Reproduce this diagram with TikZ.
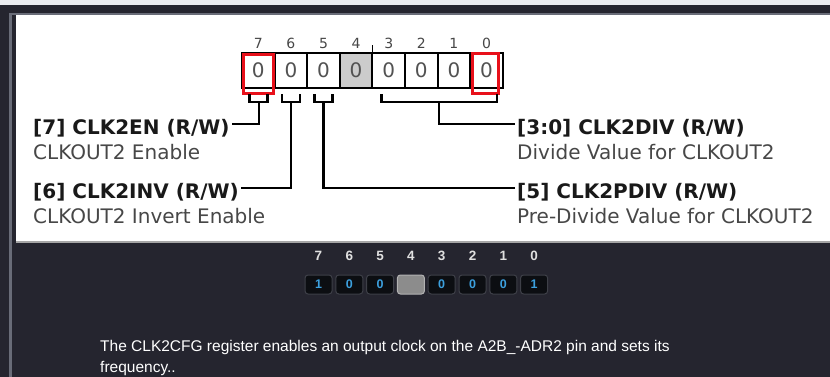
\documentclass[tikz,border=0pt]{standalone}
\usepackage{fontspec}
\setmainfont{DejaVu Sans}
\newfontfamily\uifont{Liberation Sans}
\usetikzlibrary{positioning,calc}
\definecolor{pagedark}{RGB}{37,37,47}
\definecolor{pagestrip}{RGB}{234,236,240}
\definecolor{frameline}{RGB}{105,108,120}
\definecolor{markred}{RGB}{232,16,26}
\definecolor{celldark}{RGB}{12,14,18}
\definecolor{cellrim}{RGB}{62,64,72}
\definecolor{bitblue}{RGB}{60,160,222}
\tikzset{
  bitcell/.style   = {draw=black, line width=2pt, fill=white, outer sep=0pt,
                      minimum width=32.6pt, minimum height=35pt, inner sep=0pt,
                      text=black!68, font=\fontsize{20}{20}\selectfont},
  rsvcell/.style   = {bitcell, fill=black!20},
  bitnum/.style    = {text=black!72, inner sep=0pt, font=\fontsize{14}{14}\selectfont},
  redmark/.style   = {draw=markred, line width=3pt},
  brk/.style       = {line width=2.4pt, line cap=rect},
  fieldtitle/.style= {inner sep=3pt, text=black!90,
                      font=\fontsize{20}{20}\selectfont\bfseries},
  fielddesc/.style = {inner sep=3pt, text=black!72,
                      font=\fontsize{20}{20}\selectfont},
  regbit/.style    = {draw=cellrim, fill=celldark, line width=1pt, rounded corners=3pt,
                      minimum width=27pt, minimum height=19pt, inner sep=0pt,
                      text=bitblue, font=\uifont\fontsize{12.5}{12.5}\selectfont\bfseries},
  regrsv/.style    = {regbit, fill=black!45, draw=black!30},
  regnum/.style    = {text=black!12, inner sep=0pt,
                      font=\uifont\fontsize{13.5}{13.5}\selectfont\bfseries},
  note/.style      = {text=white, align=left, inner sep=0pt,
                      font=\uifont\fontsize{15.5}{21}\selectfont}
}
\begin{document}
\begin{tikzpicture}[x=1pt, y=-1pt]
  \useasboundingbox (0,0) rectangle (830,377);

  % page frame
  \fill[pagestrip] (0,0) rectangle (830,5);
  \fill[pagedark]  (0,5) rectangle (830,377);
  \fill[frameline] (9,13) rectangle (12,377);
  \fill[frameline] (12,13) rectangle (830,15);
  \fill[white] (16,15) rectangle (830,241);
  \fill[black!35] (16,241) rectangle (830,243);

  % register picture
  \node[bitcell]                 (c7) at (258.3,70.5) {0};
  \node[bitcell, right=0pt of c7] (c6) {0};
  \node[bitcell, right=0pt of c6] (c5) {0};
  \node[rsvcell, right=0pt of c5] (c4) {0};
  \node[bitcell, right=0pt of c4] (c3) {0};
  \node[bitcell, right=0pt of c3] (c2) {0};
  \node[bitcell, right=0pt of c2] (c1) {0};
  \node[bitcell, right=0pt of c1] (c0) {0};

  \node[bitnum, above=4pt of c7] (n7) {7};
  \node[bitnum, above=4pt of c6] (n6) {6};
  \node[bitnum, above=4pt of c5] (n5) {5};
  \node[bitnum, above=4pt of c4] (n4) {4};
  \node[bitnum, above=4pt of c3] (n3) {3};
  \node[bitnum, above=4pt of c2] (n2) {2};
  \node[bitnum, above=4pt of c1] (n1) {1};
  \node[bitnum, above=4pt of c0] (n0) {0};

  \draw[line width=1.5pt] (c4.north east) -- ++(0,-8);

  \draw[redmark] ([xshift=1.5pt,yshift=-2pt]c7.north west) rectangle ([xshift=-1.5pt,yshift=-6pt]c7.south east);
  \draw[redmark] ([xshift=2pt,yshift=-1pt]c0.north west) rectangle ([xshift=-4pt,yshift=-6pt]c0.south east);

  % field labels
  \node[fieldtitle, anchor=west] (t7) at (30,128) {[7] CLK2EN (R/W)};
  \node[fielddesc, below=24pt of t7.west, anchor=west] (e7) {CLKOUT2 Enable};
  \node[fieldtitle, anchor=west] (t6) at (30,192) {[6] CLK2INV (R/W)};
  \node[fielddesc, below=24pt of t6.west, anchor=west] (e6) {CLKOUT2 Invert Enable};
  \node[fieldtitle, anchor=west] (t30) at (514,128) {[3:0] CLK2DIV (R/W)};
  \node[fielddesc, below=24pt of t30.west, anchor=west] (e30) {Divide Value for CLKOUT2};
  \node[fieldtitle, anchor=west] (t5) at (514,192) {[5] CLK2PDIV (R/W)};
  \node[fielddesc, below=24pt of t5.west, anchor=west] (e5) {Pre-Divide Value for CLKOUT2};

  % brackets and leaders
  \draw[brk] ($(c7.south)+(-9,7)$) -- ++(0,7) -- ++(18,0) -- ++(0,-7);
  \draw[brk] ($(c7.south)+(0.5,14)$) |- ([yshift=4pt]t7.east);
  \draw[brk] ($(c6.south)+(-9,7)$) -- ++(0,7) -- ++(18,0) -- ++(0,-7);
  \draw[brk] ($(c6.south)+(0,14)$) |- ([yshift=4pt]t6.east);
  \draw[brk] ($(c5.south)+(-9,7)$) -- ++(0,7) -- ++(18,0) -- ++(0,-7);
  \draw[brk] ($(c5.south)+(0,14)$) |- ([yshift=4pt]t5.west);
  \coordinate (b30) at ($(c3.south west)!0.5!(c0.south east)$);
  \draw[brk] ($(c3.south west)+(9,7)$) -- ++(0,7) -| ($(c0.south east)+(-6,7)$);
  \draw[brk] ($(b30)+(1.5,14)$) |- ([yshift=4pt]t30.west);

  % live register readout
  \node[regbit]                    (r7) at (318.5,284.5) {1};
  \node[regbit, right=2.8pt of r7] (r6) {0};
  \node[regbit, right=2.8pt of r6] (r5) {0};
  \node[regrsv, right=2.8pt of r5] (r4) {};
  \node[regbit, right=2.8pt of r4] (r3) {0};
  \node[regbit, right=2.8pt of r3] (r2) {0};
  \node[regbit, right=2.8pt of r2] (r1) {0};
  \node[regbit, right=2.8pt of r1] (r0) {1};

  \node[regnum, above=14pt of r7] (m7) {7};
  \node[regnum, above=14pt of r6] (m6) {6};
  \node[regnum, above=14pt of r5] (m5) {5};
  \node[regnum, above=14pt of r4] (m4) {4};
  \node[regnum, above=14pt of r3] (m3) {3};
  \node[regnum, above=14pt of r2] (m2) {2};
  \node[regnum, above=14pt of r1] (m1) {1};
  \node[regnum, above=14pt of r0] (m0) {0};

  \node[note, anchor=north west] (txt) at (100,340)
    {The CLK2CFG register enables an output clock on the A2B\_-ADR2 pin and sets its\\frequency..};
\end{tikzpicture}
\end{document}
